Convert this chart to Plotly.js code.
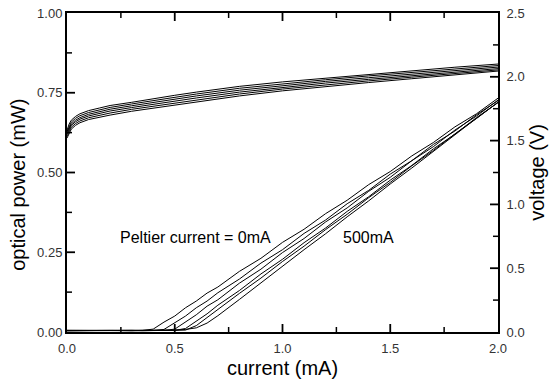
<!DOCTYPE html>
<html>
<head>
<meta charset="utf-8">
<script src="https://cdn.plot.ly/plotly-3.0.1.min.js"></script>
<style>html,body{margin:0;padding:0;background:#fff;}#chart{width:554px;height:386px;}</style>
</head>
<body>
<div id="chart"></div>
<script>
// Light output (optical power, mW) vs current (mA)
const currentL = [0, 0.1, 0.2, 0.3, 0.35, 0.4, 0.45, 0.5, 0.55, 0.6, 0.65, 0.7, 0.8, 0.9, 1.0, 1.1, 1.2, 1.3, 1.4, 1.5, 1.6, 1.7, 1.8, 1.9, 2.0];
const power1 = [0.004, 0.005, 0.004, 0.005, 0.005, 0.009, 0.031, 0.050, 0.076, 0.097, 0.122, 0.141, 0.190, 0.231, 0.281, 0.322, 0.371, 0.413, 0.462, 0.503, 0.552, 0.594, 0.643, 0.684, 0.733];
const power2 = [0.005, 0.004, 0.005, 0.005, 0.004, 0.005, 0.008, 0.029, 0.050, 0.076, 0.097, 0.123, 0.166, 0.216, 0.258, 0.309, 0.351, 0.402, 0.444, 0.495, 0.537, 0.588, 0.630, 0.681, 0.725];
const power3 = [0.004, 0.005, 0.005, 0.004, 0.005, 0.005, 0.005, 0.009, 0.032, 0.054, 0.081, 0.101, 0.153, 0.197, 0.249, 0.293, 0.345, 0.389, 0.441, 0.485, 0.537, 0.581, 0.633, 0.677, 0.727];
const power4 = [0.005, 0.005, 0.004, 0.005, 0.005, 0.004, 0.005, 0.005, 0.011, 0.034, 0.057, 0.084, 0.130, 0.182, 0.228, 0.280, 0.326, 0.378, 0.424, 0.476, 0.522, 0.574, 0.620, 0.672, 0.719];
const power5 = [0.004, 0.005, 0.005, 0.005, 0.004, 0.005, 0.005, 0.005, 0.006, 0.020, 0.046, 0.069, 0.121, 0.169, 0.221, 0.269, 0.321, 0.369, 0.421, 0.469, 0.521, 0.569, 0.621, 0.669, 0.720];
const power6 = [0.005, 0.004, 0.005, 0.004, 0.005, 0.005, 0.005, 0.006, 0.008, 0.013, 0.028, 0.051, 0.102, 0.155, 0.205, 0.258, 0.308, 0.361, 0.411, 0.464, 0.514, 0.567, 0.617, 0.670, 0.720];

// Voltage (V) vs current (mA)
const currentV = [0, 0.01, 0.02, 0.04, 0.06, 0.1, 0.15, 0.2, 0.3, 0.4, 0.5, 0.6, 0.8, 1.0, 1.2, 1.4, 1.6, 1.8, 2.0];
const volt1 = [1.58, 1.63, 1.66, 1.69, 1.71, 1.735, 1.755, 1.775, 1.80, 1.83, 1.855, 1.88, 1.925, 1.96, 1.99, 2.02, 2.045, 2.075, 2.10];
const volt2 = [1.57, 1.615, 1.645, 1.675, 1.695, 1.72, 1.74, 1.76, 1.787, 1.815, 1.84, 1.865, 1.91, 1.946, 1.977, 2.007, 2.034, 2.063, 2.088];
const volt3 = [1.56, 1.60, 1.63, 1.66, 1.68, 1.706, 1.727, 1.746, 1.773, 1.80, 1.825, 1.85, 1.895, 1.932, 1.964, 1.993, 2.021, 2.05, 2.076];
const volt4 = [1.55, 1.59, 1.62, 1.648, 1.668, 1.693, 1.713, 1.732, 1.759, 1.786, 1.81, 1.834, 1.88, 1.918, 1.951, 1.98, 2.009, 2.038, 2.064];
const volt5 = [1.535, 1.575, 1.605, 1.634, 1.654, 1.679, 1.699, 1.716, 1.745, 1.77, 1.795, 1.817, 1.865, 1.904, 1.938, 1.968, 1.997, 2.027, 2.054];
const volt6 = [1.52, 1.56, 1.59, 1.62, 1.64, 1.665, 1.685, 1.70, 1.73, 1.755, 1.78, 1.80, 1.85, 1.89, 1.925, 1.955, 1.985, 2.015, 2.045];

const powerSeries = [power1, power2, power3, power4, power5, power6];
const voltSeries = [volt1, volt2, volt3, volt4, volt5, volt6];

// Axis ticks
const xTickVals = [0, 0.5, 1.0, 1.5, 2.0];
const xMinorVals = [0.25, 0.75, 1.25, 1.75];
const yTickVals = [0, 0.25, 0.5, 0.75, 1.0];
const yMinorVals = [0.125, 0.375, 0.625, 0.875];
const y2TickVals = [0, 0.5, 1.0, 1.5, 2.0, 2.5];
const y2MinorVals = [0.25, 0.75, 1.25, 1.75, 2.25];

const xLabel = 'current (mA)';
const yLabel = 'optical power (mW)';
const y2Label = 'voltage (V)';
const noteLeft = 'Peltier current = 0mA';
const noteRight = '500mA';

const X_RANGE = [0, 2], Y_RANGE = [0, 1], Y2_RANGE = [0, 2.5];

const lineStyle = {color: '#000', width: 1};
const traces = [];
powerSeries.forEach(p => traces.push({x: currentL, y: p, type: 'scatter', mode: 'lines', line: lineStyle, yaxis: 'y', hoverinfo: 'skip'}));
voltSeries.forEach(v => traces.push({x: currentV, y: v, type: 'scatter', mode: 'lines', line: lineStyle, yaxis: 'y2', hoverinfo: 'skip'}));

const FONT = 'Liberation Sans, Arial, sans-serif';
const tickFont = {family: FONT, size: 13, color: '#333'};
const titleFont = {family: FONT, size: 20, color: '#000'};

// plot area size in px (used only to turn tick lengths into axis units)
const M = {l: 67, r: 56, t: 13, b: 54};
const PW = 554 - M.l - M.r, PH = 386 - M.t - M.b;
const MAJ = 8, MIN = 5;

// tick marks drawn as line segments on the axes' own scales
function tickTrace(xs, ys, width, yaxis) {
  return {x: xs, y: ys, type: 'scatter', mode: 'lines', yaxis: yaxis, line: {color: '#000', width: width}, hoverinfo: 'skip', cliponaxis: false, connectgaps: false};
}
function xTicks(vals, len) {
  const dy = len / PH * (Y_RANGE[1] - Y_RANGE[0]);
  const xs = [], ys = [];
  vals.forEach(v => { xs.push(v, v, null, v, v, null); ys.push(Y_RANGE[0], Y_RANGE[0] + dy, null, Y_RANGE[1], Y_RANGE[1] - dy, null); });
  return [xs, ys];
}
function yTicks(vals, len, range, fromRight) {
  const dx = len / PW * (X_RANGE[1] - X_RANGE[0]);
  const x0 = fromRight ? X_RANGE[1] : X_RANGE[0];
  const x1 = fromRight ? X_RANGE[1] - dx : X_RANGE[0] + dx;
  const xs = [], ys = [];
  vals.forEach(v => { xs.push(x0, x1, null); ys.push(v, v, null); });
  return [xs, ys];
}
let t;
t = xTicks(xTickVals.slice(1, -1), MAJ); traces.push(tickTrace(t[0], t[1], 1.8, 'y'));
t = xTicks(xMinorVals, MIN); traces.push(tickTrace(t[0], t[1], 1.5, 'y'));
t = yTicks(yTickVals.slice(1, -1), MAJ, Y_RANGE, false); traces.push(tickTrace(t[0], t[1], 1.8, 'y'));
t = yTicks(yMinorVals, MIN, Y_RANGE, false); traces.push(tickTrace(t[0], t[1], 1.5, 'y'));
t = yTicks(y2TickVals.slice(1, -1), MAJ, Y2_RANGE, true); traces.push(tickTrace(t[0], t[1], 1.8, 'y2'));
t = yTicks(y2MinorVals, MIN, Y2_RANGE, true); traces.push(tickTrace(t[0], t[1], 1.5, 'y2'));

function axisBase(extra) {
  return Object.assign({
    ticks: '', showline: true, linewidth: 2, linecolor: '#000',
    showgrid: false, zeroline: false, tickfont: tickFont, fixedrange: true
  }, extra);
}

const layout = {
  width: 554, height: 386,
  margin: M,
  paper_bgcolor: '#fff', plot_bgcolor: '#fff',
  showlegend: false,
  xaxis: axisBase({
    range: X_RANGE, tickvals: xTickVals, tickformat: '.1f', mirror: true,
    ticklabelstandoff: 3,
    title: {text: xLabel, font: titleFont, standoff: 6}
  }),
  yaxis: axisBase({
    range: Y_RANGE, tickvals: yTickVals, tickformat: '.2f', mirror: false
  }),
  yaxis2: axisBase({
    range: Y2_RANGE, tickvals: y2TickVals, tickformat: '.1f',
    overlaying: 'y', side: 'right', ticklabelstandoff: 4,
    title: {text: y2Label, font: titleFont, standoff: 6}
  }),
  annotations: [
    {x: -0.114, xref: 'paper', y: 0.461, yref: 'y', text: yLabel, textangle: -90, showarrow: false,
     xanchor: 'center', yanchor: 'middle', font: titleFont},
    {x: 0.594, y: 0.295, xref: 'x', yref: 'y', text: noteLeft, showarrow: false, font: {family: FONT, size: 16, color: '#000'}},
    {x: 1.40, y: 0.295, xref: 'x', yref: 'y', text: noteRight, showarrow: false, font: {family: FONT, size: 16, color: '#000'}}
  ]
};

Plotly.newPlot('chart', traces, layout, {staticPlot: true, displayModeBar: false});
</script>
</body>
</html>
